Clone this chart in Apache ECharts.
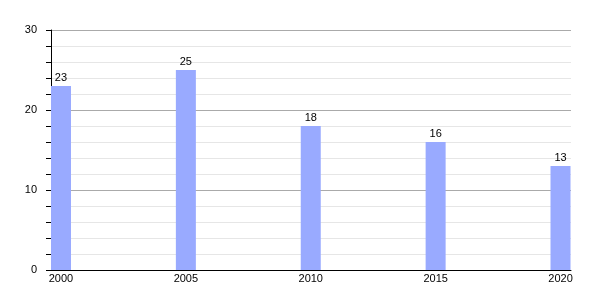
<!DOCTYPE html>
<html>
<head>
<meta charset="utf-8">
<script src="https://cdn.jsdelivr.net/npm/echarts@6/dist/echarts.min.js"></script>
<style>html,body{margin:0;padding:0;background:#fff}#c{width:600px;height:300px}</style>
</head>
<body>
<div id="c"></div>
<script>
var years = [2000, 2005, 2010, 2015, 2020];
var values = [23, 25, 18, 16, 13];
var yTicks = [0, 10, 20, 30];

var chart = echarts.init(document.getElementById('c'), null, {renderer: 'canvas'});
chart.setOption({
  animation: false,
  grid: {left: 51, right: 29, top: 30, bottom: 30, containLabel: false},
  xAxis: {
    type: 'value',
    min: 1999.6,
    max: 2020.42,
    axisLine: {show: true, onZero: false, lineStyle: {color: '#000', width: 1}},
    axisTick: {show: false},
    splitLine: {show: false},
    axisLabel: {
      customValues: years,
      color: '#000',
      fontFamily: 'Liberation Sans, Arial, sans-serif',
      fontSize: 11,
      margin: 3,
      formatter: function (v) { return String(v); }
    }
  },
  yAxis: {
    type: 'value',
    min: 0,
    max: 30,
    interval: 2,
    axisLine: {show: true, lineStyle: {color: '#000', width: 1}},
    axisTick: {show: true, length: 5, lineStyle: {color: '#000'}},
    axisLabel: {
      color: '#000',
      fontFamily: 'Liberation Sans, Arial, sans-serif',
      fontSize: 11,
      margin: 14,
      formatter: function (v) { return yTicks.indexOf(v) >= 0 ? String(v) : ''; }
    },
    splitLine: {show: true, lineStyle: {color: ['#aaaaaa', '#e6e6e6', '#e6e6e6', '#e6e6e6', '#e6e6e6'], width: 1}}
  },
  series: [{
    type: 'bar',
    data: years.map(function (y, i) { return [y, values[i]]; }),
    barWidth: 20,
    itemStyle: {color: '#99aaff'},
    label: {
      show: true,
      position: 'top',
      distance: 3,
      color: '#000',
      fontFamily: 'Liberation Sans, Arial, sans-serif',
      fontSize: 11
    }
  }]
});
</script>
</body>
</html>
